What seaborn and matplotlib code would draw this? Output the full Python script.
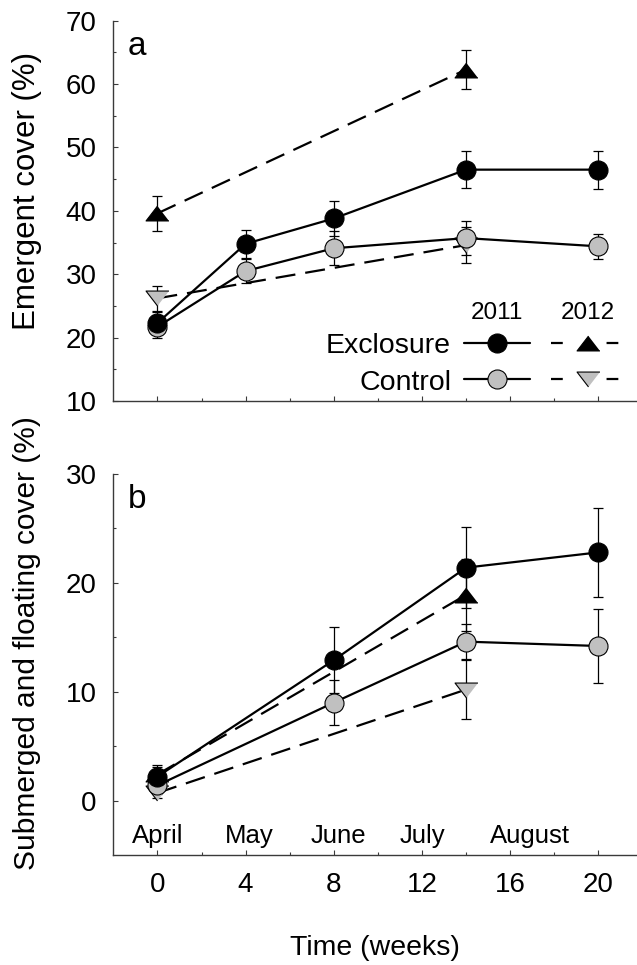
import numpy as np
import pandas as pd
import matplotlib
matplotlib.use("Agg")
import matplotlib.pyplot as plt
import seaborn as sns

# ---------------- data ----------------
weeks_a11 = [0, 4, 8, 14, 20]
weeks_12 = [0, 14]
weeks_b11 = [0, 8, 14, 20]

# Panel a: emergent cover (%)
a_exc11 = [22.3, 34.8, 38.8, 46.5, 46.5]
a_exc11_se = [1.8, 2.2, 2.8, 2.9, 3.0]
a_ctl11 = [21.7, 30.5, 34.1, 35.7, 34.4]
a_ctl11_se = [1.8, 1.9, 2.7, 2.7, 2.0]
a_exc12 = [39.6, 62.3]
a_exc12_se = [2.8, 3.1]
a_ctl12 = [26.2, 34.6]
a_ctl12_se = [2.0, 2.9]

# Panel b: submerged and floating cover (%)
b_exc11 = [2.2, 12.9, 21.4, 22.8]
b_exc11_se = [0.9, 3.0, 3.7, 4.1]
b_ctl11 = [1.4, 9.0, 14.6, 14.2]
b_ctl11_se = [0.8, 2.1, 1.6, 3.4]
b_exc12 = [2.4, 18.9]
b_exc12_se = [0.9, 3.3]
b_ctl12 = [0.7, 10.2]
b_ctl12_se = [0.5, 2.7]

months = ["April", "May", "June", "July", "August"]
month_pos = [0, 4.15, 8.2, 12.0, 16.9]

xticks = [0, 4, 8, 12, 16, 20]
a_yticks = [10, 20, 30, 40, 50, 60, 70]
b_yticks = [0, 10, 20, 30]

# ---------------- style ----------------
sns.set_style("ticks")
plt.rcParams["font.family"] = ["Liberation Sans", "DejaVu Sans"]
for k in ("text.color", "axes.labelcolor", "xtick.labelcolor", "ytick.labelcolor"):
    plt.rcParams[k] = "black"

BLACK = "black"
GREY = "#c0c0c0"
SPINE = "#3a3a3a"
TRI_UP = [(0, 0.65), (-1, -0.65), (1, -0.65)]
TRI_DN = [(0, -0.65), (-1, 0.65), (1, 0.65)]
DASH = (0, (9, 4.5))

fig = plt.figure(figsize=(6.37, 9.65), dpi=100)
W, H = 637, 965
left = 113.3 / W
width = (637 - 113.3) / W
ax_a = fig.add_axes([left, 1 - 401 / H, width, 380.3 / H])
ax_b = fig.add_axes([left, 1 - 855 / H, width, 381 / H])


def series(ax, x, y, se, color, marker, ls, ms):
    ax.errorbar(x, y, yerr=se, fmt="none", ecolor="black", elinewidth=0.9,
                capsize=3.8, capthick=0.9, zorder=2)
    df = pd.DataFrame({"week": x, "cover": y})
    sns.lineplot(data=df, x="week", y="cover", ax=ax, color="black",
                 linestyle=ls, linewidth=1.6, marker=marker, markersize=ms,
                 markerfacecolor=color, markeredgecolor="black",
                 markeredgewidth=0.8, errorbar=None, legend=False, zorder=3)


# panel a
series(ax_a, weeks_12, a_exc12, a_exc12_se, BLACK, TRI_UP, DASH, 16.5)
series(ax_a, weeks_12, a_ctl12, a_ctl12_se, GREY, TRI_DN, DASH, 16.5)
series(ax_a, weeks_a11, a_ctl11, a_ctl11_se, GREY, "o", "-", 13.7)
series(ax_a, weeks_a11, a_exc11, a_exc11_se, BLACK, "o", "-", 13.7)

# panel b
series(ax_b, weeks_12, b_ctl12, b_ctl12_se, GREY, TRI_DN, DASH, 16.5)
series(ax_b, weeks_12, b_exc12, b_exc12_se, BLACK, TRI_UP, DASH, 16.5)
series(ax_b, weeks_b11, b_ctl11, b_ctl11_se, GREY, "o", "-", 13.7)
series(ax_b, weeks_b11, b_exc11, b_exc11_se, BLACK, "o", "-", 13.7)

TICK_FS = 20
for ax in (ax_a, ax_b):
    ax.set_xlim(-2, 21.75)
    ax.set_xticks(xticks)
    ax.set_xticks([2, 6, 10, 14, 18], minor=True)
    for s in ("top", "right"):
        ax.spines[s].set_visible(False)
    for s in ("left", "bottom"):
        ax.spines[s].set_color(SPINE)
        ax.spines[s].set_linewidth(1.0)
    ax.tick_params(which="major", direction="in", length=3.6, width=0.8,
                   color=SPINE, labelcolor="black", labelsize=TICK_FS, pad=12)
    ax.tick_params(which="minor", direction="in", length=2.2, width=0.8,
                   color=SPINE)
    ax.set_xlabel("")
    ax.set_ylabel("")

ax_a.set_ylim(10, 70)
ax_a.set_yticks(a_yticks)
ax_a.set_yticks([15, 25, 35, 45, 55, 65], minor=True)
ax_a.tick_params(axis="x", labelbottom=False)

ax_b.set_ylim(-5, 30)
ax_b.set_yticks(b_yticks)
ax_b.set_yticks([5, 15, 25], minor=True)

# panel letters
ax_a.text(0.0275, 0.91, "a", transform=ax_a.transAxes, fontsize=24,
          ha="left", va="baseline", color="black")
ax_b.text(0.0275, 0.91, "b", transform=ax_b.transAxes, fontsize=24,
          ha="left", va="baseline", color="black")

# month labels
for m, p in zip(months, month_pos):
    ax_b.text(p, -3.88, m, fontsize=18.5, ha="center", va="baseline", color="black")

# axis labels
fig.text(35 / W, 1 - 191 / H, "Emergent cover (%)", rotation=90,
         rotation_mode="anchor", ha="center", va="baseline", fontsize=22.5,
         color="black")
fig.text(35 / W, 1 - 643 / H, "Submerged and floating cover (%)", rotation=90,
         rotation_mode="anchor", ha="center", va="baseline", fontsize=21.5,
         color="black")
fig.text((113.3 + 637) / 2 / W, 1 - 955 / H, "Time (weeks)", ha="center",
         va="baseline", fontsize=20.5, color="black")

# legend (drawn in axes coordinates)
T = ax_a.transAxes
ax_a.text(0.732, 0.215, "2011", transform=T, fontsize=17.5, ha="center", va="baseline")
ax_a.text(0.906, 0.215, "2012", transform=T, fontsize=17.5, ha="center", va="baseline")
ax_a.text(0.645, 0.125, "Exclosure", transform=T, fontsize=20.5, ha="right", va="baseline")
ax_a.text(0.645, 0.029, "Control", transform=T, fontsize=20.5, ha="right", va="baseline")
for yrow, fc, tri in ((0.153, BLACK, TRI_UP), (0.057, GREY, TRI_DN)):
    ax_a.plot([0.670, 0.796], [yrow, yrow], transform=T, color="black", lw=1.6,
              clip_on=False, zorder=3)
    ax_a.plot([0.732], [yrow], transform=T, marker="o", markersize=13.7,
              markerfacecolor=fc, markeredgecolor="black", markeredgewidth=0.8,
              clip_on=False, zorder=4, linestyle="none")
    ax_a.plot([0.836, 0.968], [yrow, yrow], transform=T, color="black", lw=1.6,
              linestyle=(0, (5.3, 19.7)), clip_on=False, zorder=3)
    ax_a.plot([0.906], [yrow], transform=T, marker=tri, markersize=16.5,
              markerfacecolor=fc, markeredgecolor="black", markeredgewidth=0.8,
              clip_on=False, zorder=4, linestyle="none")

fig.savefig("out.png", dpi=100)
